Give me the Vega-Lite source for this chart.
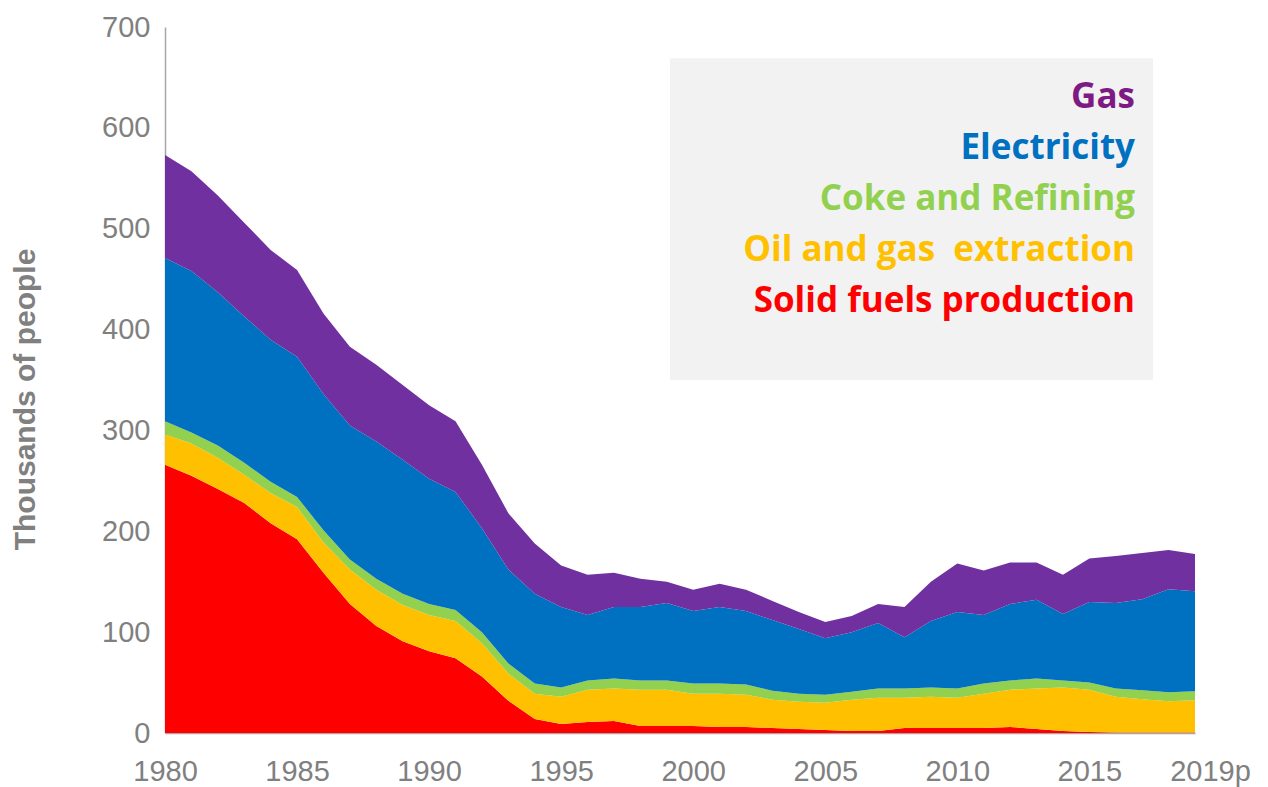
{
  "$schema": "https://vega.github.io/schema/vega-lite/v6.json",
  "width": 1030,
  "height": 706,
  "autosize": "none",
  "padding": {"left": 165, "top": 27, "right": 73, "bottom": 54},
  "background": "white",
  "config": {"view": {"stroke": null}, "font": "Liberation Sans"},
  "layer": [
    {
      "data": {"values": [{}]},
      "mark": {"type": "rect", "color": "#f2f2f2"},
      "encoding": {
        "x": {"datum": 1999.12, "type": "quantitative"},
        "x2": {"datum": 2017.41},
        "y": {"datum": 669, "type": "quantitative"},
        "y2": {"datum": 350}
      }
    },
    {
      "data": {
        "values": [
          {"year": 1980, "solid": 266, "oil": 30, "coke": 13, "elec": 162, "gas": 102},
          {"year": 1981, "solid": 255, "oil": 32, "coke": 11, "elec": 160, "gas": 99},
          {"year": 1982, "solid": 242, "oil": 31, "coke": 12, "elec": 152, "gas": 96},
          {"year": 1983, "solid": 228, "oil": 28, "coke": 12, "elec": 145, "gas": 93},
          {"year": 1984, "solid": 208, "oil": 30, "coke": 11, "elec": 141, "gas": 89},
          {"year": 1985, "solid": 192, "oil": 32, "coke": 10, "elec": 139, "gas": 86},
          {"year": 1986, "solid": 159, "oil": 30, "coke": 12, "elec": 135, "gas": 80},
          {"year": 1987, "solid": 128, "oil": 34, "coke": 10, "elec": 133, "gas": 78},
          {"year": 1988, "solid": 106, "oil": 36, "coke": 11, "elec": 136, "gas": 76},
          {"year": 1989, "solid": 91, "oil": 36, "coke": 11, "elec": 133, "gas": 74},
          {"year": 1990, "solid": 81, "oil": 36, "coke": 11, "elec": 124, "gas": 73},
          {"year": 1991, "solid": 74, "oil": 37, "coke": 11, "elec": 117, "gas": 70},
          {"year": 1992, "solid": 56, "oil": 33, "coke": 11, "elec": 103, "gas": 63},
          {"year": 1993, "solid": 32, "oil": 27, "coke": 10, "elec": 93, "gas": 56},
          {"year": 1994, "solid": 14, "oil": 25, "coke": 10, "elec": 89, "gas": 50},
          {"year": 1995, "solid": 9, "oil": 27, "coke": 9, "elec": 80, "gas": 41},
          {"year": 1996, "solid": 11, "oil": 32, "coke": 9, "elec": 65, "gas": 40},
          {"year": 1997, "solid": 12, "oil": 32, "coke": 10, "elec": 71, "gas": 34},
          {"year": 1998, "solid": 7, "oil": 36, "coke": 9, "elec": 73, "gas": 28},
          {"year": 1999, "solid": 7, "oil": 36, "coke": 9, "elec": 77, "gas": 21},
          {"year": 2000, "solid": 7, "oil": 32, "coke": 10, "elec": 72, "gas": 21},
          {"year": 2001, "solid": 6, "oil": 33, "coke": 10, "elec": 76, "gas": 23},
          {"year": 2002, "solid": 6, "oil": 32, "coke": 10, "elec": 73, "gas": 21},
          {"year": 2003, "solid": 5, "oil": 28, "coke": 9, "elec": 70, "gas": 19},
          {"year": 2004, "solid": 4, "oil": 27, "coke": 8, "elec": 64, "gas": 17},
          {"year": 2005, "solid": 3, "oil": 27, "coke": 8, "elec": 56, "gas": 16},
          {"year": 2006, "solid": 2, "oil": 31, "coke": 8, "elec": 59, "gas": 16},
          {"year": 2007, "solid": 2, "oil": 33, "coke": 9, "elec": 65, "gas": 19},
          {"year": 2008, "solid": 5, "oil": 30, "coke": 9, "elec": 51, "gas": 30},
          {"year": 2009, "solid": 5, "oil": 31, "coke": 9, "elec": 66, "gas": 39},
          {"year": 2010, "solid": 5, "oil": 30, "coke": 9, "elec": 76, "gas": 48},
          {"year": 2011, "solid": 5, "oil": 34, "coke": 10, "elec": 68, "gas": 44},
          {"year": 2012, "solid": 6, "oil": 37, "coke": 9, "elec": 76, "gas": 41},
          {"year": 2013, "solid": 4, "oil": 40, "coke": 10, "elec": 78, "gas": 37},
          {"year": 2014, "solid": 2, "oil": 43, "coke": 7, "elec": 66, "gas": 39},
          {"year": 2015, "solid": 1, "oil": 42, "coke": 7, "elec": 80, "gas": 43},
          {"year": 2016, "solid": 0.5, "oil": 35.5, "coke": 8, "elec": 85, "gas": 46.5},
          {"year": 2017, "solid": 0.5, "oil": 33, "coke": 9, "elec": 90, "gas": 46},
          {"year": 2018, "solid": 0.5, "oil": 31, "coke": 9, "elec": 102, "gas": 39},
          {"year": 2019, "solid": 0.5, "oil": 32, "coke": 9, "elec": 99, "gas": 37}
        ]
      },
      "transform": [
        {"fold": ["solid", "oil", "coke", "elec", "gas"], "as": ["sector", "people"]},
        {"calculate": "indexof(['solid','oil','coke','elec','gas'], datum.sector)", "as": "stackRank"}
      ],
      "mark": {"type": "area", "interpolate": "linear"},
      "encoding": {
        "x": {
          "field": "year",
          "type": "quantitative",
          "scale": {"domain": [1980, 2019], "nice": false, "zero": false},
          "axis": {
            "title": null,
            "values": [1980, 1985, 1990, 1995, 2000, 2005, 2010, 2015, 2019],
            "format": "d",
            "labelExpr": "datum.value == 2019 ? '2019p' : datum.label",
            "ticks": false,
            "grid": false,
            "domainColor": "#a6a6a6",
            "domainWidth": 1.5,
            "labelFont": "Liberation Sans",
            "labelFontSize": 29,
            "labelColor": "#808080",
            "labelPadding": 47,
            "labelBaseline": "alphabetic",
            "labelFlush": false,
            "labelOverlap": false,
            "labelOffset": {"condition": {"test": "datum.value == 2019", "value": 15}, "value": 0}
          }
        },
        "y": {
          "field": "people",
          "type": "quantitative",
          "stack": "zero",
          "scale": {"domain": [0, 700], "nice": false},
          "axis": {
            "title": "Thousands of people",
            "values": [0, 100, 200, 300, 400, 500, 600, 700],
            "ticks": false,
            "grid": false,
            "domainColor": "#a6a6a6",
            "domainWidth": 1.5,
            "labelFont": "Liberation Sans",
            "labelFontSize": 29,
            "labelColor": "#808080",
            "labelPadding": 15,
            "titleFont": "Liberation Sans",
            "titleFontSize": 30,
            "titleFontWeight": "bold",
            "titleColor": "#808080",
            "titleAngle": -90,
            "titleX": -140,
            "titleY": 372,
            "titleAlign": "center",
            "titleBaseline": "middle"
          }
        },
        "color": {
          "field": "sector",
          "type": "nominal",
          "scale": {
            "domain": ["solid", "oil", "coke", "elec", "gas"],
            "range": ["#FF0000", "#FFC000", "#92D050", "#0070C0", "#7030A0"]
          },
          "legend": {
            "orient": "none",
            "legendX": 535,
            "legendY": 52,
            "title": null,
            "values": ["gas", "elec", "coke", "oil", "solid"],
            "labelExpr": "datum.value == 'gas' ? 'Gas' : datum.value == 'elec' ? 'Electricity' : datum.value == 'coke' ? 'Coke and Refining' : datum.value == 'oil' ? 'Oil and gas\u00a0 extraction' : 'Solid fuels production'",
            "symbolSize": 0,
            "symbolOpacity": 0,
            "symbolStrokeWidth": 0,
            "labelOffset": 400,
            "labelAlign": "right",
            "labelFont": "Open Sans",
            "labelFontWeight": "bold",
            "labelFontSize": 35,
            "labelLimit": 0,
            "rowPadding": 15,
            "padding": 0,
            "encode": {
              "labels": {
                "update": {
                  "fill": {"signal": "datum.value == 'gas' ? '#7e1a84' : scale('color', datum.value)"}
                }
              }
            }
          }
        },
        "order": {"field": "stackRank", "type": "quantitative"}
      }
    }
  ]
}
